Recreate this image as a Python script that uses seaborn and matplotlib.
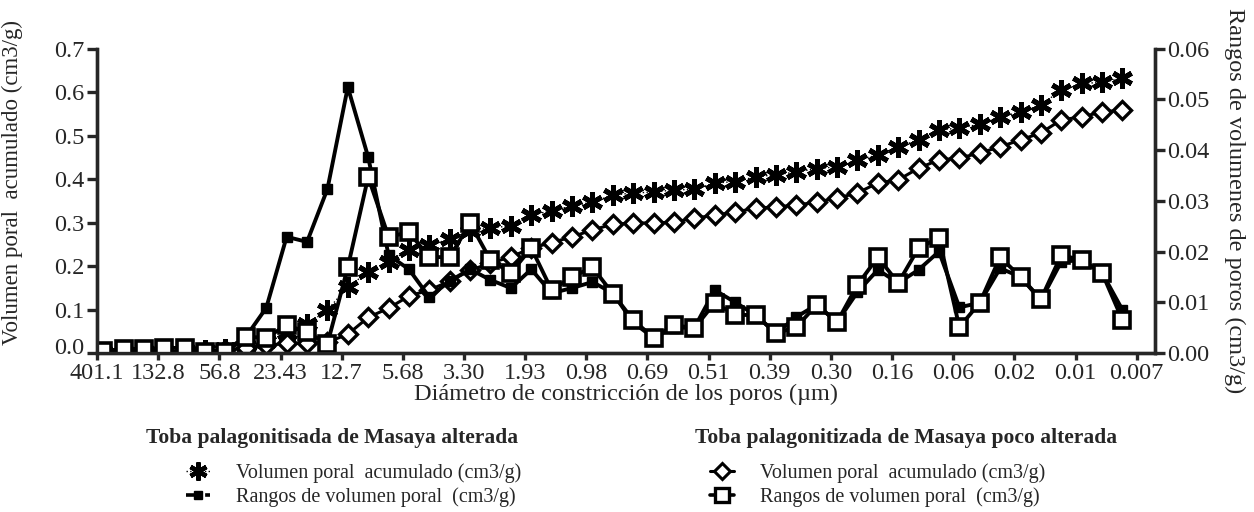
import numpy as np
import pandas as pd
import seaborn as sns
import matplotlib
matplotlib.use("Agg")
import matplotlib.pyplot as plt
from matplotlib.lines import Line2D
from matplotlib.transforms import ScaledTranslation

# diameter labels (um), one label every 3 classes
diam_labels = ["401.1", "132.8", "56.8", "23.43", "12.7", "5.68", "3.30", "1.93", "0.98",
               "0.69", "0.51", "0.39", "0.30", "0.16", "0.06", "0.02", "0.01", "0.007"]

# Toba palagonitisada de Masaya alterada
alt_cum = [0.002, 0.003, 0.004, 0.005, 0.006, 0.007, 0.009, 0.015, 0.028, 0.045,
           0.066, 0.099, 0.152, 0.186, 0.21, 0.237, 0.248, 0.262, 0.28, 0.288,
           0.292, 0.317, 0.327, 0.338, 0.347, 0.363, 0.368, 0.37, 0.375, 0.376,
           0.391, 0.394, 0.405, 0.41, 0.416, 0.424, 0.428, 0.444, 0.455, 0.474,
           0.49, 0.513, 0.517, 0.526, 0.543, 0.554, 0.570, 0.605, 0.620, 0.622,
           0.632]
alt_rng = [0.0003, 0.0002, 0.0005, 0.0003, 0.0002, 0.0003, 0.0005, 0.0032, 0.0089, 0.0229,
           0.0219, 0.0323, 0.0524, 0.0386, 0.0193, 0.0165, 0.0110, 0.0142, 0.0165, 0.0144,
           0.0128, 0.0165, 0.0118, 0.0128, 0.0140, 0.0118, 0.0060, 0.0030, 0.0050, 0.0050,
           0.0124, 0.0100, 0.0075, 0.0039, 0.0071, 0.0095, 0.0061, 0.0120, 0.0164, 0.0138,
           0.0164, 0.0200, 0.0090, 0.0099, 0.0167, 0.0150, 0.0104, 0.0180, 0.0183, 0.0158,
           0.0085]

# Toba palagonitizada de Masaya poco alterada
poco_cum = [0.0, 0.001, 0.002, 0.003, 0.004, 0.005, 0.007, 0.012, 0.018, 0.022,
            0.022, 0.025, 0.043, 0.082, 0.103, 0.131, 0.145, 0.165, 0.19, 0.207,
            0.221, 0.241, 0.254, 0.267, 0.283, 0.296, 0.299, 0.299, 0.301, 0.31,
            0.317, 0.324, 0.333, 0.336, 0.34, 0.347, 0.356, 0.368, 0.391, 0.398,
            0.425, 0.444, 0.448, 0.46, 0.474, 0.49, 0.506, 0.536, 0.543, 0.554,
            0.559]
poco_rng = [0.0004, 0.0008, 0.0008, 0.0010, 0.0010, 0.0003, 0.0003, 0.0032, 0.0030, 0.0055,
            0.0041, 0.0018, 0.0169, 0.0347, 0.0229, 0.0238, 0.0189, 0.0189, 0.0256, 0.0183,
            0.0158, 0.0207, 0.0124, 0.0150, 0.0169, 0.0117, 0.0065, 0.0030, 0.0055, 0.0049,
            0.0099, 0.0075, 0.0075, 0.0039, 0.0051, 0.0095, 0.0061, 0.0134, 0.0189, 0.0138,
            0.0207, 0.0227, 0.0051, 0.0099, 0.0189, 0.0150, 0.0106, 0.0193, 0.0183, 0.0158,
            0.0065]

df = pd.DataFrame({"clase": np.arange(len(alt_cum)),
                   "alt_cum": alt_cum, "alt_rng": alt_rng,
                   "poco_cum": poco_cum, "poco_rng": poco_rng})

sns.set_theme(style="ticks")
plt.rcParams["font.family"] = ["Liberation Serif", "DejaVu Serif"]
plt.rcParams["axes.linewidth"] = 2.4

fig = plt.figure(figsize=(12.54, 5.12), dpi=100)
ax = fig.add_axes([0.0774, 0.3105, 0.8437, 0.5947])
ax2 = ax.twinx()

asterisk = (6, 2, 0)
sns.lineplot(data=df, x="clase", y="alt_cum", ax=ax, color="black", lw=1, ls=":",
             marker=asterisk, ms=15, mew=3.6, mec="black")
sns.lineplot(data=df, x="clase", y="poco_cum", ax=ax, color="black", lw=2.2,
             marker="D", ms=9, mew=2.4, mfc="white", mec="black")
sns.lineplot(data=df, x="clase", y="alt_rng", ax=ax2, color="black", lw=2.8,
             marker="s", ms=7.5, mew=1, mfc="black", mec="black")
sns.lineplot(data=df, x="clase", y="poco_rng", ax=ax2, color="black", lw=2.8,
             marker="s", ms=11.5, mew=2.6, mfc="white", mec="black")

ax.set_xlim(-0.3, 51.6)
ax.set_ylim(0, 0.7)
ax2.set_ylim(0, 0.06)
ax.set_xticks(np.arange(len(diam_labels)) * 3 - 0.3)
ax.set_xticklabels(diam_labels)
ax.set_yticks(np.arange(0, 0.71, 0.1))
ax.set_yticklabels([f"{v:.1f}" for v in np.arange(0, 0.71, 0.1)])
ax2.set_yticks(np.arange(0, 0.061, 0.01))
ax2.set_yticklabels([f"{v:.2f}" for v in np.arange(0, 0.061, 0.01)])

for a in (ax, ax2):
    a.spines["top"].set_visible(False)
    a.tick_params(labelsize=17.5, length=7, width=2.4, pad=2)
ax.tick_params(axis="x", length=5, pad=2)

# lift the "0.0" label a little so it clears "401.1"
lbl0 = ax.get_yticklabels()[0]
lbl0.set_transform(lbl0.get_transform() + ScaledTranslation(0, 7 / 100, fig.dpi_scale_trans))

ax.set_xlabel("Diámetro de constricción de los poros (µm)", fontsize=17.5, labelpad=0)
ax.set_ylabel("Volumen poral  acumulado (cm3/g)", fontsize=16.5)
ax.yaxis.set_label_coords(-0.07, 0.56)
ax2.set_ylabel("Rangos de volumenes de poros (cm3/g)", fontsize=17.5, rotation=270)
ax2.yaxis.set_label_coords(1.085, 0.5)

# legend: two groups with bold titles
fig.text(332 / 1254, 1 - 438 / 512, "Toba palagonitisada de Masaya alterada",
         ha="center", va="center", fontsize=15.5, fontweight="bold")
fig.text(906 / 1254, 1 - 438 / 512, "Toba palagonitizada de Masaya poco alterada",
         ha="center", va="center", fontsize=15.5, fontweight="bold")

h_alt = [Line2D([], [], color="black", lw=1, ls=":", marker=asterisk, ms=13, mew=3.2),
         Line2D([], [], color="black", lw=2.6, ls="--", marker="s", ms=6, mfc="black")]
h_poco = [Line2D([], [], color="black", lw=2.2, marker="D", ms=8, mew=2.2, mfc="white"),
          Line2D([], [], color="black", lw=2.6, marker="s", ms=10, mew=2.4, mfc="white")]
lab = ["Volumen poral  acumulado (cm3/g)", "Rangos de volumen poral  (cm3/g)"]

fig.legend(h_alt, lab, loc="upper left", bbox_to_anchor=(176 / 1254, 1 - 453 / 512),
           frameon=False, fontsize=14.5, handlelength=1.2, handletextpad=1.3,
           labelspacing=0.2, borderpad=0)
fig.legend(h_poco, lab, loc="upper left", bbox_to_anchor=(700 / 1254, 1 - 453 / 512),
           frameon=False, fontsize=14.5, handlelength=1.2, handletextpad=1.3,
           labelspacing=0.2, borderpad=0)

fig.savefig("out.png", dpi=100)
